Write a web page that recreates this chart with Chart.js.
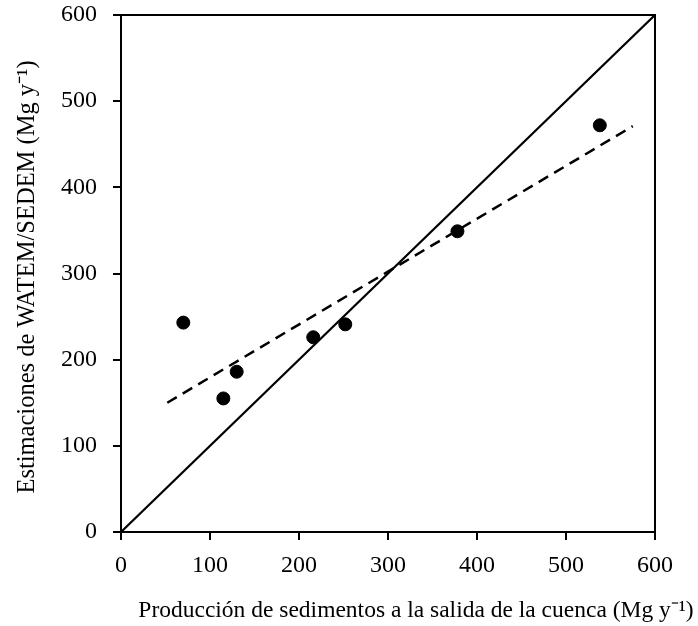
<!DOCTYPE html>
<html>
<head>
<meta charset="utf-8">
<script src="https://cdn.jsdelivr.net/npm/chart.js@4"></script>
<style>
  html, body { margin: 0; padding: 0; background: #fff; }
  #wrap { width: 698px; height: 626px; }
</style>
</head>
<body>
<div id="wrap"><canvas id="myChart" width="698" height="626"></canvas></div>
<script>
// datos
const observados = [70, 115, 130, 216, 252, 378, 538];
const estimados = [243, 155, 186, 226, 241, 349, 472];
const lineaX = [0, 600];
const lineaY = [0, 600];
const tendX = [52, 575];
const tendY = [150, 471];
const ticksEje = [0, 100, 200, 300, 400, 500, 600];

const tituloX = 'Producción de sedimentos a la salida de la cuenca (Mg y⁻¹)';
const tituloY = 'Estimaciones de WATEM/SEDEM (Mg y⁻¹)';
const fuente = '"Liberation Serif", "Times New Roman", serif';

const pares = (xs, ys) => xs.map((x, i) => ({ x: x, y: ys[i] }));

// marco y titulos de ejes
const marco = {
    id: 'marco',
    afterDraw(chart) {
        const ctx = chart.ctx;
        const a = chart.chartArea;
        ctx.save();
        ctx.strokeStyle = '#000';
        ctx.lineWidth = 2;
        ctx.strokeRect(a.left, a.top, a.right - a.left, a.bottom - a.top);
        ctx.fillStyle = '#000';
        ctx.font = '23.5px ' + fuente;
        ctx.textAlign = 'center';
        ctx.textBaseline = 'alphabetic';
        ctx.fillText(tituloX, 416, 617);
        ctx.translate(34, 277);
        ctx.rotate(-Math.PI / 2);
        ctx.font = '24.5px ' + fuente;
        ctx.fillText(tituloY, 0, 0);
        ctx.restore();
    }
};

const chartArea = document.getElementById('myChart').getContext('2d');
new Chart(chartArea, {
    type: 'scatter',
    data: {
        datasets: [
            {
                label: '1:1',
                data: pares(lineaX, lineaY),
                showLine: true,
                borderColor: '#000',
                borderWidth: 2.2,
                pointRadius: 0
            },
            {
                label: 'tendencia',
                data: pares(tendX, tendY),
                showLine: true,
                borderColor: '#000',
                borderWidth: 2.5,
                borderDash: [11, 7],
                pointRadius: 0
            },
            {
                label: 'datos',
                data: pares(observados, estimados),
                backgroundColor: '#000',
                borderColor: '#000',
                pointRadius: 6.5,
                pointStyle: 'circle'
            }
        ]
    },
    options: {
        responsive: false,
        animation: false,
        layout: { padding: { top: 15, right: 43, left: 0, bottom: 0 } },
        plugins: {
            legend: { display: false },
            tooltip: { enabled: false }
        },
        scales: {
            x: {
                min: 0, max: 600,
                afterBuildTicks: (s) => { s.ticks = ticksEje.map(v => ({ value: v })); },
                afterFit: (s) => { s.height = 94; s.paddingLeft = 0; s.paddingRight = 0; },
                grid: { drawOnChartArea: false, drawTicks: true, tickLength: 8, color: '#000', lineWidth: 2 },
                border: { display: true, color: '#000', width: 2 },
                ticks: { color: '#000', padding: 11, maxRotation: 0, font: { family: fuente, size: 24 } }
            },
            y: {
                min: 0, max: 600,
                afterBuildTicks: (s) => { s.ticks = ticksEje.map(v => ({ value: v })); },
                afterFit: (s) => { s.width = 121; s.paddingTop = 0; s.paddingBottom = 0; },
                grid: { drawOnChartArea: false, drawTicks: true, tickLength: 8, color: '#000', lineWidth: 2 },
                border: { display: true, color: '#000', width: 2 },
                ticks: { color: '#000', padding: 16, font: { family: fuente, size: 24 } }
            }
        }
    },
    plugins: [marco]
});
</script>
</body>
</html>
